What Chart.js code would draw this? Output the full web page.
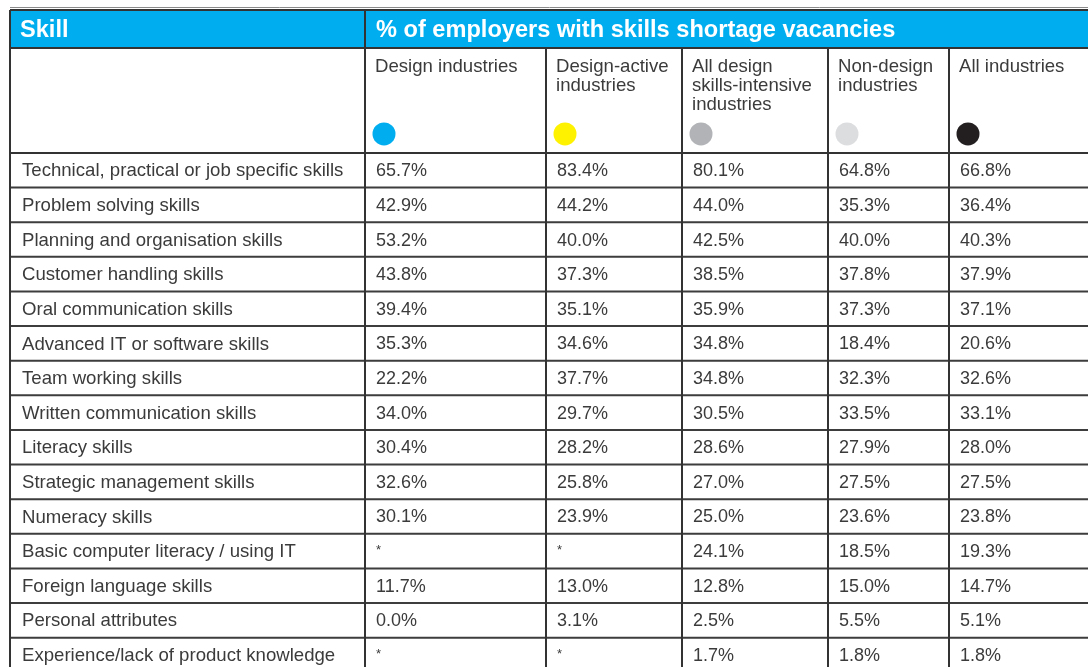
<!DOCTYPE html>
<html><head><meta charset="utf-8">
<script src="https://cdn.jsdelivr.net/npm/chart.js@4"></script>
<style>html,body{margin:0;padding:0;background:#fff}canvas{display:block}</style>
</head><body>
<canvas id="c" width="1088" height="667"></canvas>
<script>
// ---- data ----
const skillHeader = 'Skill';
const groupHeader = '% of employers with skills shortage vacancies';
const industries = [
  ['Design industries'],
  ['Design-active', 'industries'],
  ['All design', 'skills-intensive', 'industries'],
  ['Non-design', 'industries'],
  ['All industries']
];
const industryColors = ['#00aeef', '#fff200', '#b1b3b6', '#dcdddf', '#231f20'];
const skills = [
  'Technical, practical or job specific skills',
  'Problem solving skills',
  'Planning and organisation skills',
  'Customer handling skills',
  'Oral communication skills',
  'Advanced IT or software skills',
  'Team working skills',
  'Written communication skills',
  'Literacy skills',
  'Strategic management skills',
  'Numeracy skills',
  'Basic computer literacy / using IT',
  'Foreign language skills',
  'Personal attributes',
  'Experience/lack of product knowledge'
];
const designIndustries   = [65.7, 42.9, 53.2, 43.8, 39.4, 35.3, 22.2, 34.0, 30.4, 32.6, 30.1, null, 11.7, 0.0, null];
const designActive       = [83.4, 44.2, 40.0, 37.3, 35.1, 34.6, 37.7, 29.7, 28.2, 25.8, 23.9, null, 13.0, 3.1, null];
const allDesignIntensive = [80.1, 44.0, 42.5, 38.5, 35.9, 34.8, 34.8, 30.5, 28.6, 27.0, 25.0, 24.1, 12.8, 2.5, 1.7];
const nonDesign          = [64.8, 35.3, 40.0, 37.8, 37.3, 18.4, 32.3, 33.5, 27.9, 27.5, 23.6, 18.5, 15.0, 5.5, 1.8];
const allIndustries      = [66.8, 36.4, 40.3, 37.9, 37.1, 20.6, 32.6, 33.1, 28.0, 27.5, 23.8, 19.3, 14.7, 5.1, 1.8];
const seriesValues = [designIndustries, designActive, allDesignIntensive, nonDesign, allIndustries];

// ---- layout (scale units) ----
const colEdges = [10, 365, 546, 682, 828, 949, 1110]; // x-scale units
const bandTop = -4.13, bandBottom = -3.03;            // y-scale (row) units
const labelTop = -2.485, labelStep = 0.55, dotRow = -0.55;

const FONT = '"Liberation Sans", Arial, sans-serif';
const TEXT = '#3b3b3b';
const LINE = '#333333';

const tablePlugin = {
  id: 'table',
  beforeDatasetsDraw(chart) {
    const ctx = chart.ctx, xs = chart.scales.x, ys = chart.scales.y;
    const X = v => xs.getPixelForValue(v), Y = v => ys.getPixelForValue(v);
    ctx.save();
    // blue header band
    ctx.fillStyle = '#00aeef';
    ctx.fillRect(X(colEdges[0]), Y(bandTop), X(colEdges[6]) - X(colEdges[0]), Y(bandBottom) - Y(bandTop));
    ctx.fillStyle = '#ffffff';
    ctx.font = 'bold 23.6px ' + FONT;
    ctx.textBaseline = 'middle';
    const bandMid = Y((bandTop + bandBottom) / 2) + 1;
    ctx.fillText(skillHeader, X(colEdges[0]) + 10, bandMid);
    ctx.fillText(groupHeader, X(colEdges[1]) + 11, bandMid);
    // column headings
    ctx.fillStyle = TEXT;
    ctx.font = '18.6px ' + FONT;
    industries.forEach((lines, i) => {
      lines.forEach((t, k) => ctx.fillText(t, X(colEdges[i + 1]) + 10, Y(labelTop + k * labelStep)));
    });
    // body
    skills.forEach((s, r) => {
      const yc = Y(r + 0.5) + 1;
      ctx.font = '18.6px ' + FONT;
      ctx.fillText(s, X(colEdges[0]) + 12, yc);
      seriesValues.forEach((arr, c) => {
        const v = arr[r];
        const x0 = X(colEdges[c + 1]) + 11;
        if (v === null) {
          ctx.font = '13px ' + FONT;
          ctx.fillText('*', x0, yc - 2);
        } else {
          ctx.font = '18px ' + FONT;
          ctx.fillText(v.toFixed(1) + '%', x0, yc);
        }
      });
    });
    // grid lines
    ctx.strokeStyle = '#8a8a8a';
    ctx.lineWidth = 1;
    ctx.beginPath();
    ctx.moveTo(X(colEdges[0]), Y(bandTop) - 2.5);
    ctx.lineTo(X(colEdges[6]), Y(bandTop) - 2.5);
    ctx.stroke();
    ctx.strokeStyle = LINE;
    ctx.lineWidth = 2;
    ctx.beginPath();
    const left = X(colEdges[0]), right = X(colEdges[6]), bottom = chart.height + 5;
    [bandTop, bandBottom, 0].forEach(v => { ctx.moveTo(left, Y(v)); ctx.lineTo(right, Y(v)); });
    ctx.stroke();
    ctx.strokeStyle = '#3d3d3d';
    ctx.beginPath();
    for (let r = 1; r <= skills.length; r++) { ctx.moveTo(left, Y(r)); ctx.lineTo(right, Y(r)); }
    ctx.stroke();
    ctx.strokeStyle = LINE;
    ctx.beginPath();
    colEdges.slice(0, 6).forEach((e, i) => {
      const top = (i <= 1) ? Y(bandTop) : Y(bandBottom);
      ctx.moveTo(X(e), top); ctx.lineTo(X(e), bottom);
    });
    ctx.stroke();
    ctx.restore();
  }
};

new Chart(document.getElementById('c'), {
  type: 'scatter',
  data: {
    datasets: [{
      data: industries.map((_, i) => ({ x: colEdges[i + 1] + 19, y: dotRow })),
      pointBackgroundColor: industryColors,
      pointBorderWidth: 0,
      pointRadius: 11.5,
      pointHoverRadius: 11.5,
      clip: false
    }]
  },
  options: {
    responsive: false,
    devicePixelRatio: 1,
    animation: false,
    layout: { padding: 0, autoPadding: false },
    events: [],
    plugins: { legend: { display: false }, tooltip: { enabled: false } },
    scales: {
      x: { type: 'linear', min: 0, max: 1088, display: false },
      y: { type: 'linear', min: -4.419, max: 14.847, reverse: true, display: false }
    }
  },
  plugins: [tablePlugin]
});
</script>
</body></html>
